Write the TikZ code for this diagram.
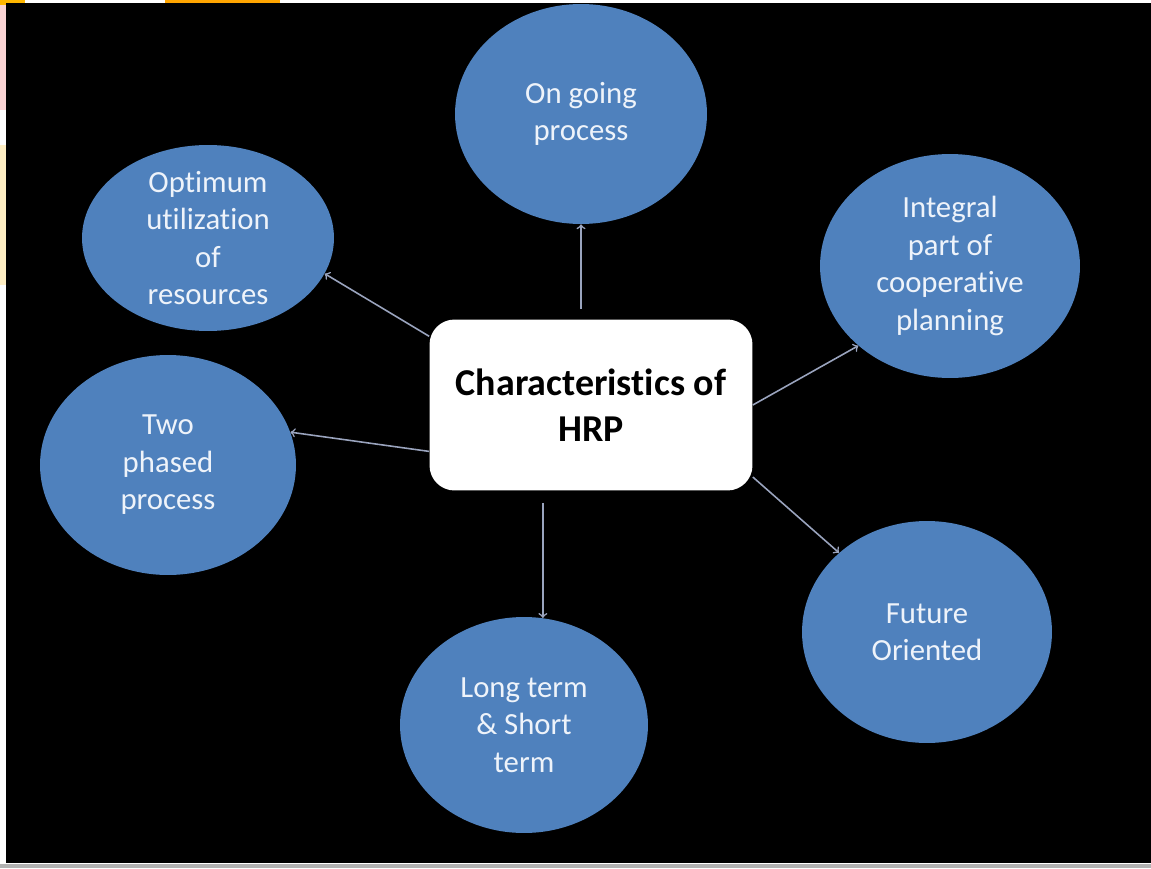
\documentclass[tikz,border=0pt]{standalone}
\usepackage{fontspec}
\setmainfont{Carlito}[Ligatures=NoCommon]
\usetikzlibrary{shapes.geometric}
\definecolor{blobblue}{HTML}{4F81BD}
\definecolor{blobtext}{HTML}{EEF3FA}
\definecolor{linkgray}{HTML}{9AA4BE}
\definecolor{slideorange}{HTML}{FFA500}
\definecolor{slidepink}{HTML}{FAD4D4}
\definecolor{slidecream}{HTML}{FFEFC4}
\begin{document}
\begin{tikzpicture}[x=0.02cm, y=-0.02cm,
    blob/.style={ellipse, fill=blobblue, text=blobtext, align=center, inner sep=-4pt,
                 font=\fontsize{17.5}{21.3}\selectfont},
    hub/.style={rectangle, rounded corners=0.5cm, fill=white, text=black, align=center,
                minimum width=6.46cm, minimum height=3.42cm,
                font=\fontsize{21.6}{26.4}\selectfont\bfseries},
    link/.style={->, linkgray, line width=0.9pt}]
    \useasboundingbox (0,0) rectangle (1151,868);

    % slide behind
    \fill[white] (0,0) rectangle (1151,868);
    \fill[slideorange] (165,0) rectangle (280,4);
    \fill[slideorange!80!yellow] (0,0) rectangle (25,5);
    \fill[slidepink] (0,5) rectangle (6,110);
    \fill[slidecream] (0,145) rectangle (6,285);
    \fill[black] (6,3) rectangle (1151,863);
    \fill[gray!60] (0,864) rectangle (1151,868);

    \node[blob, minimum width=5.04cm, minimum height=4.4cm]  (ongoing)  at (581,114) {On going\\process};
    \node[blob, minimum width=5.04cm, minimum height=3.72cm] (optimum)  at (208,238) {Optimum\\utilization\\of\\resources};
    \node[blob, minimum width=5.2cm,  minimum height=4.48cm] (integral) at (950,266) {Integral\\part of\\cooperative\\planning};
    \node[blob, minimum width=5.12cm, minimum height=4.4cm]  (twophase) at (168,465) {Two\\phased\\process};
    \node[blob, minimum width=5.0cm,  minimum height=4.44cm] (future)   at (927,632) {Future\\Oriented};
    \node[blob, minimum width=4.96cm, minimum height=4.32cm] (longterm) at (524,725) {Long term\\\& Short\\term};

    \node[hub] (hrp) at (591,405) {Characteristics of\\HRP};

    \draw[link, shorten <=0.2cm] (hrp.north -| ongoing.south) -- (ongoing.south);
    \draw[link] (hrp.157) -- (optimum.-17);
    \draw[link] (hrp.196) -- (twophase.15);
    \draw[link] (hrp.east) -- (integral.221);
    \draw[link] (hrp.-24) -- (future.138);
    \draw[link, shorten <=0.24cm] (hrp.south -| longterm.80) -- (longterm.80);
\end{tikzpicture}
\end{document}
